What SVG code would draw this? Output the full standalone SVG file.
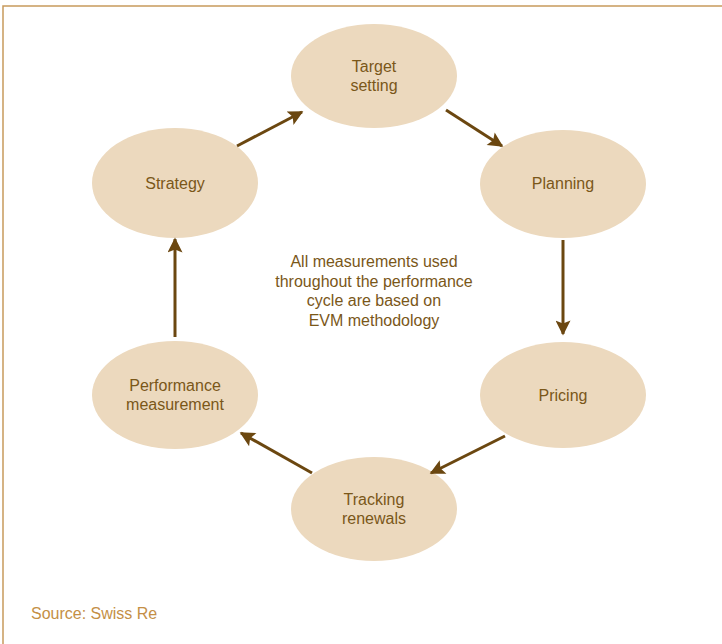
<svg xmlns="http://www.w3.org/2000/svg" width="722" height="644" viewBox="0 0 722 644">
  <style>
    .node ellipse { fill: #ecd9be; }
    .node text, .note { font-family: "Liberation Sans", Arial, sans-serif; font-size: 16px; fill: #7a5719; text-anchor: middle; }
    .link { stroke: #6b4710; stroke-width: 3; fill: none; marker-end: url(#head); }
    .source { font-family: "Liberation Sans", Arial, sans-serif; font-size: 16px; fill: #c48f46; }
  </style>
  <defs>
    <marker id="head" viewBox="0 0 10 10" refX="9" refY="5" markerWidth="6" markerHeight="5" markerUnits="strokeWidth" orient="auto">
      <path d="M0,0 L10,5 L0,10 L2,5 Z" fill="#6b4710"/>
    </marker>
  </defs>
  <rect width="722" height="644" fill="#ffffff"/>
  <!-- frame -->
  <path d="M3,644 V6 H722" fill="none" stroke="#c89a5c" stroke-width="1.5"/>

  <g id="target-setting" class="node">
    <ellipse cx="374" cy="76" rx="83" ry="52"/>
    <text x="374" y="72">Target</text>
    <text x="374" y="91">setting</text>
  </g>
  <g id="planning" class="node">
    <ellipse cx="563" cy="184" rx="83" ry="54"/>
    <text x="563" y="189">Planning</text>
  </g>
  <g id="pricing" class="node">
    <ellipse cx="563" cy="395" rx="83" ry="53"/>
    <text x="563" y="401">Pricing</text>
  </g>
  <g id="tracking-renewals" class="node">
    <ellipse cx="374" cy="509" rx="83" ry="52"/>
    <text x="374" y="505">Tracking</text>
    <text x="374" y="524">renewals</text>
  </g>
  <g id="performance-measurement" class="node">
    <ellipse cx="175" cy="395" rx="83" ry="54"/>
    <text x="175" y="391">Performance</text>
    <text x="175" y="410">measurement</text>
  </g>
  <g id="strategy" class="node">
    <ellipse cx="175" cy="183" rx="83" ry="55"/>
    <text x="175" y="189">Strategy</text>
  </g>

  <g id="note">
    <text class="note" x="374" y="267">All measurements used</text>
    <text class="note" x="374" y="287">throughout the performance</text>
    <text class="note" x="374" y="306">cycle are based on</text>
    <text class="note" x="374" y="326">EVM methodology</text>
  </g>

  <g id="connectors">
    <line class="link" x1="237" y1="146" x2="302" y2="112"/>
    <line class="link" x1="446" y1="110" x2="502" y2="146"/>
    <line class="link" x1="563" y1="240" x2="563" y2="334"/>
    <line class="link" x1="505" y1="436" x2="431" y2="473"/>
    <line class="link" x1="312" y1="473" x2="241" y2="433"/>
    <line class="link" x1="175" y1="337" x2="175" y2="239"/>
  </g>

  <text class="source" x="31" y="619">Source: Swiss Re</text>
</svg>
